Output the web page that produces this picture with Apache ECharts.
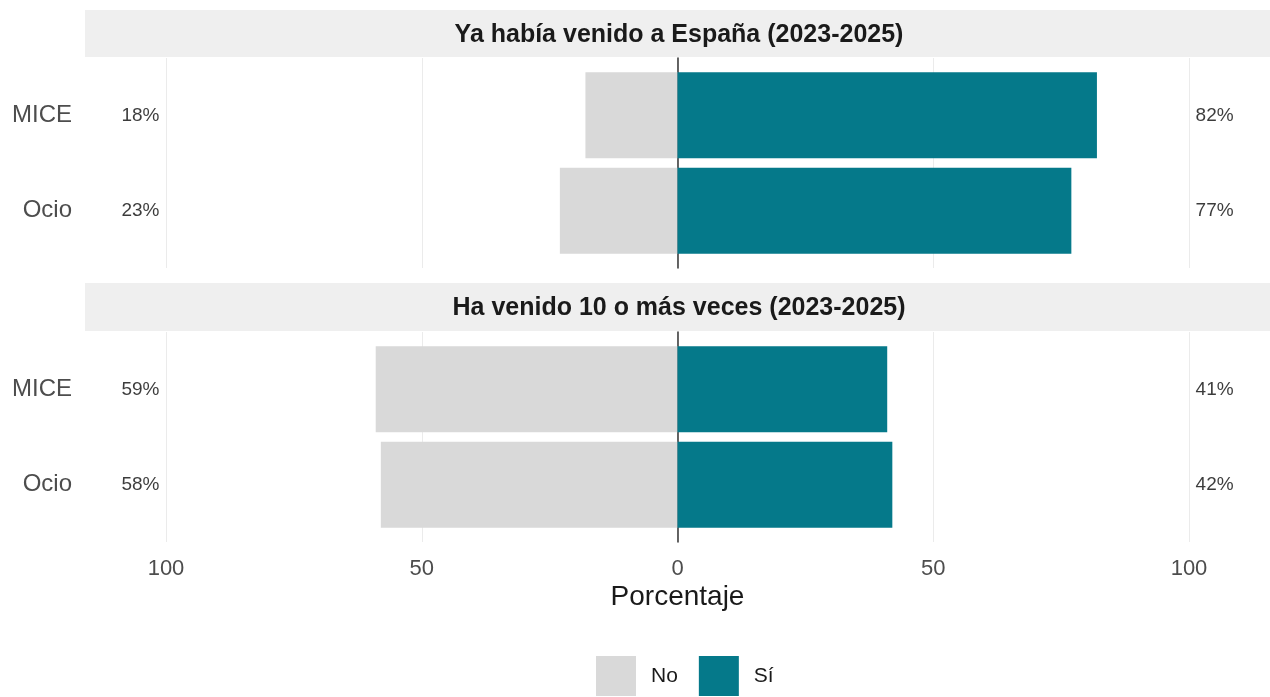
<!DOCTYPE html>
<html>
<head>
<meta charset="utf-8">
<script src="https://cdn.jsdelivr.net/npm/echarts@6/dist/echarts.min.js"></script>
<style>
  html, body { margin: 0; padding: 0; background: #fff; }
  #chart { width: 1270px; height: 697px; }
</style>
</head>
<body>
<div id="chart"></div>
<script>
// --- data ---
const categories = ['MICE', 'Ocio'];
const facetTitles = ['Ya había venido a España (2023-2025)', 'Ha venido 10 o más veces (2023-2025)'];
const noVisited = [18, 23];
const siVisited = [82, 77];
const no10 = [59, 58];
const si10 = [41, 42];
const labelPos = 105;   // where the % labels sit on the x scale

const C_NO = '#D9D9D9';
const C_SI = '#05798A';
const FONT = 'Liberation Sans, Arial, sans-serif';

// panel layout (ggplot-like facets)
const panels = [
  { stripTop: 10, top: 58, height: 210 },
  { stripTop: 283, top: 332, height: 210 }
];
const PLOT_LEFT = 166, PLOT_W = 1023;

const grids = [], xAxes = [], yAxes = [], series = [], graphics = [];

panels.forEach(function (p, i) {
  const unit = p.height / 2.2;        // ggplot discrete expansion 0.6
  const isLast = i === panels.length - 1;

  // background grid: vertical gridlines + zero line
  grids.push({ left: PLOT_LEFT, width: PLOT_W, top: p.top, height: p.height });
  xAxes.push({
    type: 'value', gridIndex: grids.length - 1, min: -100, max: 100, interval: 50,
    axisLine: { show: false }, axisTick: { show: false },
    splitLine: { show: true, lineStyle: { color: '#EBEBEB', width: 1 } },
    axisLabel: {
      show: isLast, margin: 16, color: '#4D4D4D', fontSize: 22, fontFamily: FONT,
      formatter: function (v) { return Math.abs(v); }
    },
    name: isLast ? 'Porcentaje' : '', nameLocation: 'middle', nameGap: 41,
    nameTextStyle: { color: '#1A1A1A', fontSize: 28, fontFamily: FONT }
  });
  yAxes.push({
    type: 'value', gridIndex: grids.length - 1, min: 0, max: 1,
    axisLine: { show: true, onZero: true, lineStyle: { color: '#333', width: 1.5 } },
    axisTick: { show: false }, axisLabel: { show: false }, splitLine: { show: false }
  });

  // bar grid
  grids.push({ left: PLOT_LEFT, width: PLOT_W, top: p.top + 0.1 * unit, height: 2 * unit });
  const gi = grids.length - 1;
  xAxes.push({
    type: 'value', gridIndex: gi, min: -100, max: 100, show: false
  });
  yAxes.push({
    type: 'category', gridIndex: gi, data: categories, inverse: true,
    axisLine: { show: false }, axisTick: { show: false },
    axisLabel: { margin: 94, color: '#4D4D4D', fontSize: 24, fontFamily: FONT }
  });

  const noVals = i === 0 ? noVisited : no10;
  const siVals = i === 0 ? siVisited : si10;
  const ax = xAxes.length - 1;

  series.push({
    name: 'No', type: 'bar', stack: 's' + i, xAxisIndex: ax, yAxisIndex: ax,
    data: noVals.map(function (v) { return -v; }), barWidth: '90%',
    itemStyle: { color: C_NO }, z: 3
  });
  series.push({
    name: 'Sí', type: 'bar', stack: 's' + i, xAxisIndex: ax, yAxisIndex: ax,
    data: siVals, barWidth: '90%', itemStyle: { color: C_SI }, z: 3
  });
  const lab = {
    show: true, position: 'inside', color: '#0A0A0A', fontSize: 19, fontFamily: FONT,
    formatter: function (d) { return d.data[2] + '%'; }
  };
  series.push({
    type: 'scatter', xAxisIndex: ax, yAxisIndex: ax, symbolSize: 1, clip: false,
    itemStyle: { color: 'rgba(0,0,0,0)' }, label: lab, silent: true,
    data: noVals.map(function (v, k) { return [-labelPos, categories[k], v]; })
  });
  series.push({
    type: 'scatter', xAxisIndex: ax, yAxisIndex: ax, symbolSize: 1, clip: false,
    itemStyle: { color: 'rgba(0,0,0,0)' }, label: lab, silent: true,
    data: siVals.map(function (v, k) { return [labelPos, categories[k], v]; })
  });

  // facet strip
  graphics.push({
    type: 'rect', left: 85, top: p.stripTop, z: 0,
    shape: { width: 1185, height: p.top - p.stripTop - 1 },
    style: { fill: '#EFEFEF' }
  });
  graphics.push({
    type: 'text', x: 679, y: (p.stripTop + p.top) / 2 + 1, z: 1,
    style: {
      text: facetTitles[i], fill: '#1A1A1A', font: 'bold 25px ' + FONT,
      textAlign: 'center', textVerticalAlign: 'middle'
    }
  });
});

const chart = echarts.init(document.getElementById('chart'), null, { renderer: 'canvas' });
chart.setOption({
  animation: false,
  backgroundColor: '#fff',
  grid: grids,
  xAxis: xAxes,
  yAxis: yAxes,
  series: series,
  graphic: graphics,
  legend: {
    data: ['No', 'Sí'], left: 596, top: 656, padding: 0, icon: 'rect',
    itemWidth: 40, itemHeight: 40, itemGap: 21,
    textStyle: { color: '#1A1A1A', fontSize: 21, fontFamily: FONT, padding: [6, 0, 0, 10] }
  }
});
</script>
</body>
</html>
